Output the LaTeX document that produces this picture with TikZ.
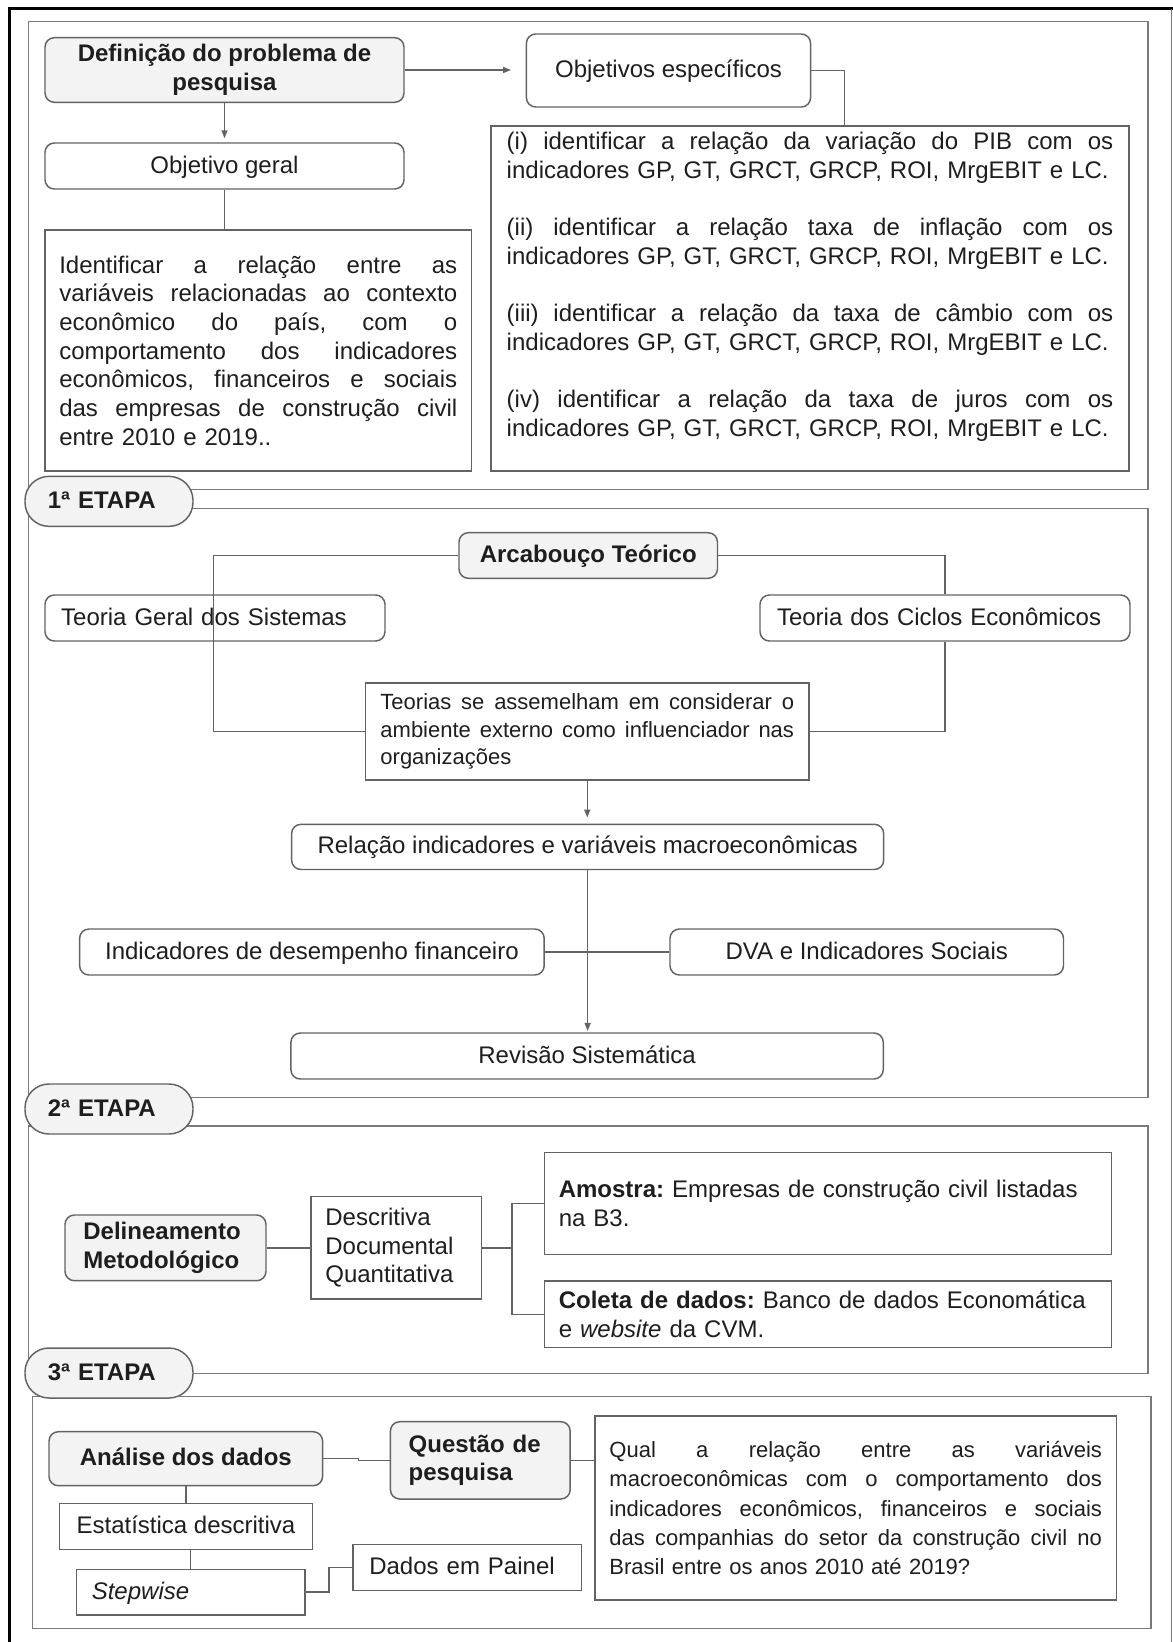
\documentclass[tikz,border=0pt]{standalone}
\usepackage{fontspec}
\setmainfont{Liberation Sans}
\usetikzlibrary{arrows.meta}
\setlength{\parindent}{0pt}
\frenchspacing
\definecolor{lc}{HTML}{636363}
\definecolor{pc}{HTML}{7A7A7A}
\definecolor{hf}{HTML}{F3F3F3}
\definecolor{tc}{HTML}{1E1E1E}
\newcommand\fA{\fontsize{18pt}{21.5pt}\selectfont}
\newcommand\fQ{\fontsize{16.5pt}{22pt}\selectfont}
\newcommand\fT{\fontsize{16.5pt}{20.8pt}\selectfont}
\newcommand\jl[1]{\makebox[\hsize][s]{\spaceskip=0pt\xspaceskip=0pt\relax #1}\\}
\begin{document}
\begin{tikzpicture}[x=0.75pt,y=-0.75pt,
  bx/.style={draw=lc,line width=1.1pt,text=tc,inner sep=0pt,font=\fA},
  rbx/.style={bx,rounded corners=7pt},
  hd/.style={rbx,fill=hf,font=\fA\bfseries},
  one/.style={text height=13.5pt,text depth=3pt},
  ln/.style={draw=lc,line width=1.1pt},
  ar/.style={ln,-{Triangle[length=6pt,width=4.5pt]},shorten >=3pt},
  panel/.style={draw=pc,line width=1.1pt},
  pill/.style={draw=lc,line width=1.1pt,fill=hf,rounded corners=18pt,text=tc,font=\fA\bfseries,
    minimum width=126pt,minimum height=37.5pt,inner ysep=0pt,inner xsep=17.1pt,text width=91.8pt}
]
\useasboundingbox (0,0) rectangle (1173,1642);
\fill[white] (0,0) rectangle (1173,1642);
% outer frame
\draw[black,line width=2.3pt] (9.5,1642) -- (9.5,8.6) -- (1173,8.6);
\draw[pc,line width=0.9pt] (1171.5,8.6) -- (1171.5,1642);
% panels
\draw[panel] (28.7,21.7) rectangle (1148,489.3);
\draw[panel] (28.7,508.3) rectangle (1148,1097.3);
\draw[panel] (28.7,1126) rectangle (1148,1373.5);
\draw[panel] (32.5,1396.7) rectangle (1151,1628.3);
% stage pills
\node[pill,one] (e1) at (109,501.35) {1ª ETAPA};
\node[pill,one] (e2) at (109,1109) {2ª ETAPA};
\node[pill,one] (e3) at (109,1373) {3ª ETAPA};

% ---- top section
\node[hd,minimum width=269.25pt,minimum height=48.45pt,align=center] (def) at (224.5,70) {Definição do problema de\\pesquisa};
\node[rbx,one,minimum width=213.15pt,minimum height=54.75pt] (oe) at (668.5,70.5) {Objetivos específicos};
\node[rbx,one,minimum width=269.25pt,minimum height=34.5pt] (og) at (224.5,166) {Objetivo geral};
\node[bx,minimum width=319.875pt,minimum height=180.75pt,text width=298.5pt,inner xsep=10.69pt] (gb) at (258.25,350.5)
 {\jl{Identificar a relação entre as}
  \jl{variáveis relacionadas ao contexto}
  \jl{econômico do país, com o}
  \jl{comportamento dos indicadores}
  \jl{econômicos, financeiros e sociais}
  \jl{das empresas de construção civil}
  entre 2010 e 2019..};
\node[bx,minimum width=478.5pt,minimum height=258.75pt,text width=454.9pt,inner xsep=11.8pt] (sb) at (810,298.5)
 {\jl{(i) identificar a relação da variação do PIB com os}
  indicadores GP, GT, GRCT, GRCP, ROI, MrgEBIT e LC.\\
  \mbox{}\\
  \jl{(ii) identificar a relação taxa de inflação com os}
  indicadores GP, GT, GRCT, GRCP, ROI, MrgEBIT e LC.\\
  \mbox{}\\
  \jl{(iii) identificar a relação da taxa de câmbio com os}
  indicadores GP, GT, GRCT, GRCP, ROI, MrgEBIT e LC.\\
  \mbox{}\\
  \jl{(iv) identificar a relação da taxa de juros com os}
  indicadores GP, GT, GRCT, GRCP, ROI, MrgEBIT e LC.\\
  \mbox{}};

% ---- 1a etapa
\node[hd,one,minimum width=193.875pt,minimum height=34.2pt] (arc) at (588.25,555.5) {Arcabouço Teórico};
\node[rbx,one,minimum width=255pt,minimum height=34.5pt,text width=230.7pt,inner xsep=12.15pt] (tgs) at (215,618) {Teoria Geral dos Sistemas};
\node[rbx,one,minimum width=277.5pt,minimum height=34.5pt,text width=252pt,inner xsep=12.75pt] (tce) at (945,618) {Teoria dos Ciclos Econômicos};
\node[bx,font=\fT,minimum width=332.625pt,minimum height=72.75pt,text width=310.2pt,inner xsep=11.2pt] (teo) at (587.25,731.5)
 {\jl{Teorias se assemelham em considerar o}
  \jl{ambiente externo como influenciador nas}
  organizações};
\node[rbx,one,minimum width=444.075pt,minimum height=33.9pt] (rel) at (587.65,846.9) {Relação indicadores e variáveis macroeconômicas};
\node[rbx,one,minimum width=348.45pt,minimum height=34.5pt] (ind) at (311.9,952) {Indicadores de desempenho financeiro};
\node[rbx,one,minimum width=295.125pt,minimum height=34.5pt] (dva) at (866.75,952) {DVA e Indicadores Sociais};
\node[rbx,one,minimum width=444.3pt,minimum height=34.5pt] (rev) at (587.1,1056) {Revisão Sistemática};

% ---- 2a etapa
\node[hd,minimum width=150.75pt,minimum height=49.275pt,text width=123.15pt,inner xsep=13.8pt] (del) at (165.5,1247.85) {Delineamento\\Metodológico};
\node[bx,minimum width=127.95pt,minimum height=76.725pt,text width=106.15pt,inner xsep=10.9pt] (des) at (396.1,1247.85) {Descritiva\\Documental\\Quantitativa};
\node[bx,minimum width=425.25pt,minimum height=76.5pt,text width=403.95pt,inner xsep=10.65pt] (amo) at (828.1,1203.3) {\textbf{Amostra:} Empresas de construção civil listadas\\na B3.};
\node[bx,minimum width=425.25pt,minimum height=50.025pt,text width=403.95pt,inner xsep=10.65pt] (col) at (828.1,1314.35) {\textbf{Coleta de dados:} Banco de dados Economática\\e \textit{website} da CVM.};

% ---- 3a etapa
\node[hd,one,minimum width=205.2pt,minimum height=40.5pt] (ana) at (185.8,1458.7) {Análise dos dados};
\node[hd,minimum width=134.85pt,minimum height=57.975pt,text width=107.45pt,inner xsep=13.7pt] (que) at (480.3,1460.35) {Questão de\\pesquisa};
\node[bx,font=\fQ,minimum width=390.825pt,minimum height=138pt,text width=369.4pt,inner xsep=10.7pt] (qt) at (855.75,1508)
 {\jl{Qual a relação entre as variáveis}
  \jl{macroeconômicas com o comportamento dos}
  \jl{indicadores econômicos, financeiros e sociais}
  \jl{das companhias do setor da construção civil no}
  Brasil entre os anos 2010 até 2019?};
\node[bx,one,minimum width=190.05pt,minimum height=34.5pt] (est) at (186,1526.3) {Estatística descritiva};
\node[bx,one,minimum width=171.375pt,minimum height=34.275pt,text width=148.4pt,inner xsep=11.5pt] (stp) at (190.75,1592.15) {\textit{Stepwise}};
\node[bx,one,minimum width=171.6pt,minimum height=34.8pt,text width=147pt,inner xsep=12.3pt] (pai) at (467.3,1567.5) {Dados em Painel};

% ---- connectors
\coordinate (c1) at (844.6,126);
\coordinate (c2) at (213.5,0);
\coordinate (c3) at (512,0);
\draw[ar,shorten >=11pt] (def.east) -- (def.east -| oe.west);
\draw[ln] (oe.east) -| (c1);
\draw[ar] (def.south) -- (og.north);
\draw[ln] (og.south) -- (og.south |- gb.north);
\draw[ln] (arc.west) -| (c2 |- teo.west) -- (teo.west);
\draw[ln] (arc.east) -| (tce.north);
\draw[ln] (tce.south) |- (teo.east);
\draw[ar,shorten >=4.5pt] (teo.south) -- (teo.south |- rel.north);
\draw[ar,shorten >=1pt] (rel.south) -- (rel.south |- rev.north);
\draw[ln] (ind.east) -- (dva.west);
\draw[ln] (del.east) -- (des.west);
\draw[ln] (des.east) -- (des.east -| c3);
\draw[ln] (amo.west) -| (c3 |- col.west) -- (col.west);
\draw[ln] (ana.east) -- ++(35,0) |- (que.west);
\draw[ln] (que.east) -- (que.east -| qt.west);
\draw[ln] (ana.south) -- (ana.south |- est.north);
\draw[ln] (stp.north |- est.south) -- (stp.north);
\draw[ln] (stp.east) -- ++(23.4,0) |- (pai.west);
\end{tikzpicture}
\end{document}
